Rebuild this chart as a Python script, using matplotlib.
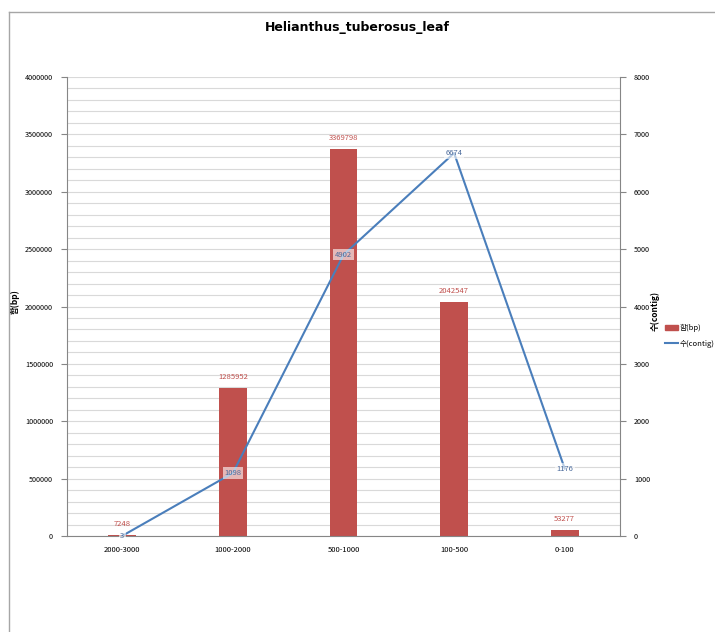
import numpy as np
import matplotlib.pyplot as plt
from matplotlib.lines import Line2D
from matplotlib.patches import Patch
from matplotlib.ticker import StrMethodFormatter

plt.rcParams['font.family'] = ['Noto Sans CJK KR', 'DejaVu Sans']

categories = ['2000-3000', '1000-2000', '500-1000', '100-500', '0-100']
bp_sum = [7248, 1285952, 3369798, 2042547, 53277]
contig_count = [3, 1098, 4902, 6674, 1176]

bar_color = '#C0504D'
line_color = '#4A7EBB'

fig = plt.figure(figsize=(7.15, 6.32), dpi=100)
W, H = 715, 632

# outer chart frame (cut by image edge on right/bottom)
fig.add_artist(Line2D([9 / W, 9 / W], [0, 1 - 12 / H], color='#A6A6A6', lw=1))
fig.add_artist(Line2D([9 / W, 1], [1 - 12 / H, 1 - 12 / H], color='#A6A6A6', lw=1))

ax = fig.add_axes([67 / W, 1 - 536 / H, (620 - 67) / W, (536 - 77) / H])
ax2 = ax.twinx()

x = np.arange(len(categories))
ax.bar(x, bp_sum, width=0.25, color=bar_color, zorder=2)
ax.set_ylim(0, 4000000)
ax.set_xlim(-0.5, len(categories) - 0.5)
ax.set_yticks(np.arange(0, 4000001, 500000))
ax.set_yticks(np.arange(0, 4000001, 100000), minor=True)
ax.yaxis.set_major_formatter(StrMethodFormatter('{x:.0f}'))
ax.yaxis.grid(True, which='both', color='#D9D9D9', lw=0.8, zorder=0)
ax.set_axisbelow(True)
ax.set_xticks(x)
ax.set_xticklabels(categories)
ax.tick_params(axis='x', length=0, labelsize=5.5, pad=7)
ax.tick_params(axis='y', which='major', labelsize=5.2, length=4, color='#868686', pad=6)
ax.tick_params(axis='y', which='minor', length=0)
for s in ['top', 'right']:
    ax.spines[s].set_visible(False)
ax.spines['left'].set_color('#868686')
ax.spines['bottom'].set_color('#868686')
ax.set_ylabel('합(bp)', fontsize=6, fontweight='bold')
ax.yaxis.set_label_coords(-47 / 553, 0.51)

for xi, v in zip(x, bp_sum):
    ax.annotate(str(v), (xi, v), xytext=(0, 5), textcoords='offset points',
                ha='center', va='bottom', fontsize=5.5, color=bar_color)

ax2.plot(x, contig_count, color=line_color, lw=1.5, zorder=3)
ax2.set_ylim(0, 8000)
ax2.set_yticks(np.arange(0, 8001, 1000))
ax2.tick_params(axis='y', labelsize=5.2, length=4, color='#868686', pad=6)
for s in ['top', 'left', 'bottom']:
    ax2.spines[s].set_visible(False)
ax2.spines['right'].set_color('#868686')
ax2.set_ylabel('수(contig)', fontsize=6, fontweight='bold')
ax2.yaxis.set_label_coords(1 + 30 / 553, 0.49)

for xi, v in zip(x, contig_count):
    ax2.text(xi, v, str(v), ha='center', va='center', fontsize=5.5, color='#4A6A9B',
             bbox=dict(boxstyle='square,pad=0.2', fc='white', ec='none', alpha=0.6),
             zorder=4)

fig.text(0.5, 1 - 28 / H, 'Helianthus_tuberosus_leaf', ha='center', va='center',
         fontsize=9, fontweight='bold', family=['DejaVu Sans'])

handles = [Patch(color=bar_color), Line2D([], [], color=line_color, lw=1.5)]
fig.legend(handles, ['합(bp)', '수(contig)'], loc='center left',
           bbox_to_anchor=(660 / W, 1 - 336 / H), frameon=False, fontsize=5.5,
           handlelength=1.7, handletextpad=0.3, labelspacing=1.0, borderpad=0.1)

fig.savefig('out.png', dpi=100)
